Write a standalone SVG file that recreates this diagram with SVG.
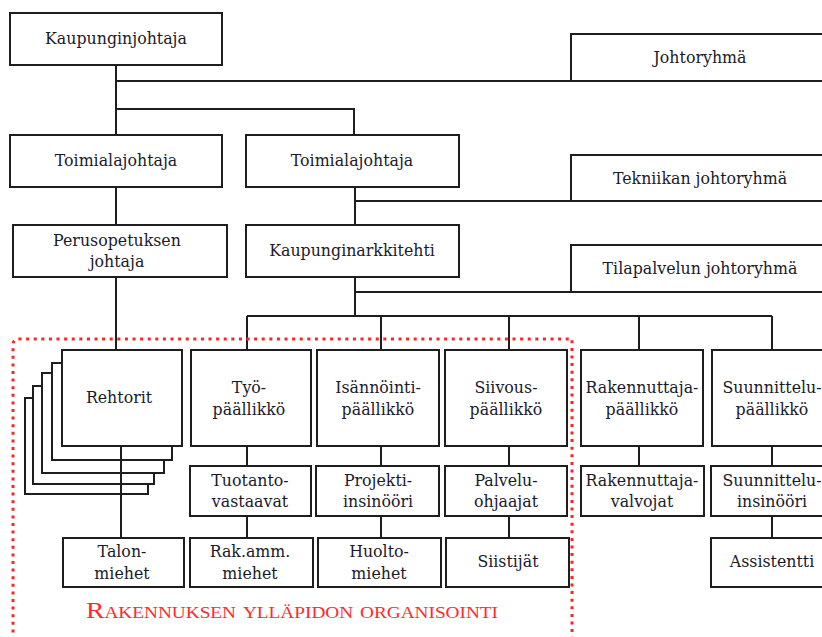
<svg xmlns="http://www.w3.org/2000/svg" width="822" height="637" viewBox="0 0 822 637">
  <style>
    .box { fill: #ffffff; stroke: #1e1e1e; stroke-width: 2; }
    .lbl { font-family: "DejaVu Serif", "Liberation Serif", serif; font-size: 15.8px; fill: #1a1a2a; text-anchor: middle; }
    .wire { fill: none; stroke: #1e1e1e; stroke-width: 2; }
    .area { fill: none; stroke: #ff2424; stroke-width: 3; stroke-dasharray: 3 4.6; }
    .title { font-family: "Liberation Serif", "DejaVu Serif", serif; font-size: 23px; font-variant: small-caps; fill: #ff2a2a; }
  </style>
  <rect width="822" height="637" fill="#ffffff"/>

  <!-- management level -->
  <g id="kaupunginjohtaja">
    <rect class="box" x="10" y="13" width="212" height="52"/>
    <text class="lbl" x="116" y="44">Kaupunginjohtaja</text>
  </g>
  <g id="johtoryhma">
    <rect class="box" x="571" y="34" width="262" height="47"/>
    <text class="lbl" x="700" y="63">Johtoryhmä</text>
  </g>
  <g id="toimialajohtaja-1">
    <rect class="box" x="10" y="135" width="212" height="52"/>
    <text class="lbl" x="116" y="166">Toimialajohtaja</text>
  </g>
  <g id="toimialajohtaja-2">
    <rect class="box" x="246" y="135" width="213" height="52"/>
    <text class="lbl" x="352" y="166">Toimialajohtaja</text>
  </g>
  <g id="tekniikan-johtoryhma">
    <rect class="box" x="571" y="155" width="262" height="46"/>
    <text class="lbl" x="700" y="184">Tekniikan johtoryhmä</text>
  </g>
  <g id="perusopetuksen-johtaja">
    <rect class="box" x="13" y="225" width="214" height="52"/>
    <text class="lbl" x="117" y="246">Perusopetuksen</text>
    <text class="lbl" x="117" y="267">johtaja</text>
  </g>
  <g id="kaupunginarkkitehti">
    <rect class="box" x="246" y="225" width="213" height="52"/>
    <text class="lbl" x="352" y="256">Kaupunginarkkitehti</text>
  </g>
  <g id="tilapalvelun-johtoryhma">
    <rect class="box" x="571" y="245" width="262" height="47"/>
    <text class="lbl" x="700" y="274">Tilapalvelun johtoryhmä</text>
  </g>

  <!-- stacked principals -->
  <g id="rehtorit">
    <rect class="box" x="25" y="398" width="123" height="96"/>
    <rect class="box" x="33" y="386" width="121" height="98"/>
    <rect class="box" x="42" y="373" width="122" height="100"/>
    <rect class="box" x="52" y="363" width="120" height="97"/>
    <rect class="box" x="62" y="350" width="120" height="96"/>
    <text class="lbl" x="119" y="403">Rehtorit</text>
  </g>

  <!-- supervisors -->
  <g id="tyopaallikko">
    <rect class="box" x="191" y="350" width="120" height="96"/>
    <text class="lbl" x="249" y="393">Työ-</text>
    <text class="lbl" x="249" y="415">päällikkö</text>
  </g>
  <g id="isannointipaallikko">
    <rect class="box" x="317" y="350" width="122" height="96"/>
    <text class="lbl" x="378" y="393">Isännöinti-</text>
    <text class="lbl" x="378" y="415">päällikkö</text>
  </g>
  <g id="siivouspaallikko">
    <rect class="box" x="445" y="350" width="122" height="96"/>
    <text class="lbl" x="506" y="393">Siivous-</text>
    <text class="lbl" x="506" y="415">päällikkö</text>
  </g>
  <g id="rakennuttajapaallikko">
    <rect class="box" x="581" y="350" width="122" height="96"/>
    <text class="lbl" x="642" y="393">Rakennuttaja-</text>
    <text class="lbl" x="642" y="415">päällikkö</text>
  </g>
  <g id="suunnittelupaallikko">
    <rect class="box" x="712" y="350" width="122" height="96"/>
    <text class="lbl" x="772" y="393">Suunnittelu-</text>
    <text class="lbl" x="772" y="415">päällikkö</text>
  </g>

  <!-- second level staff -->
  <g id="tuotantovastaavat">
    <rect class="box" x="190" y="466" width="121" height="50"/>
    <text class="lbl" x="250" y="486">Tuotanto-</text>
    <text class="lbl" x="250" y="507">vastaavat</text>
  </g>
  <g id="projekti-insinoori">
    <rect class="box" x="316" y="466" width="123" height="50"/>
    <text class="lbl" x="378" y="486">Projekti-</text>
    <text class="lbl" x="378" y="507">insinööri</text>
  </g>
  <g id="palveluohjaajat">
    <rect class="box" x="445" y="466" width="122" height="50"/>
    <text class="lbl" x="506" y="486">Palvelu-</text>
    <text class="lbl" x="506" y="507">ohjaajat</text>
  </g>
  <g id="rakennuttajavalvojat">
    <rect class="box" x="581" y="466" width="123" height="50"/>
    <text class="lbl" x="642" y="486">Rakennuttaja-</text>
    <text class="lbl" x="642" y="507">valvojat</text>
  </g>
  <g id="suunnitteluinsinoori">
    <rect class="box" x="711" y="466" width="123" height="50"/>
    <text class="lbl" x="772" y="486">Suunnittelu-</text>
    <text class="lbl" x="772" y="507">insinööri</text>
  </g>

  <!-- field staff -->
  <g id="talonmiehet">
    <rect class="box" x="63" y="538" width="121" height="49"/>
    <text class="lbl" x="122" y="557">Talon-</text>
    <text class="lbl" x="122" y="579">miehet</text>
  </g>
  <g id="rakamm-miehet">
    <rect class="box" x="190" y="538" width="123" height="49"/>
    <text class="lbl" x="250" y="557">Rak.amm.</text>
    <text class="lbl" x="250" y="579">miehet</text>
  </g>
  <g id="huoltomiehet">
    <rect class="box" x="318" y="538" width="123" height="49"/>
    <text class="lbl" x="379" y="557">Huolto-</text>
    <text class="lbl" x="379" y="579">miehet</text>
  </g>
  <g id="siistijat">
    <rect class="box" x="446" y="538" width="123" height="49"/>
    <text class="lbl" x="508" y="567">Siistijät</text>
  </g>
  <g id="assistentti">
    <rect class="box" x="711" y="538" width="123" height="49"/>
    <text class="lbl" x="772" y="567">Assistentti</text>
  </g>

  <!-- reporting lines -->
  <g id="connectors" class="wire">
    <path d="M116,65 V135"/>
    <path d="M116,81 H822"/>
    <path d="M116,109 H354 V135"/>
    <path d="M116,187 V225"/>
    <path d="M355,187 V225"/>
    <path d="M355,201 H822"/>
    <path d="M355,277 V316"/>
    <path d="M355,292 H822"/>
    <path d="M247,316 H772"/>
    <path d="M116,277 V350"/>
    <path d="M247,316 V350 M381,316 V350 M509,316 V350 M639,316 V350 M772,316 V350"/>
    <path d="M247,446 V466 M381,446 V466 M509,446 V466 M639,446 V466 M772,446 V466"/>
    <path d="M121,446 V538"/>
    <path d="M247,516 V538 M381,516 V538 M509,516 V538 M772,516 V538"/>
  </g>

  <!-- building maintenance area -->
  <g id="yllapito-alue">
    <path class="area" d="M13,640 V345 Q13,339 19,339 H572 V640"/>
    <text class="title" x="86" y="618" textLength="412" lengthAdjust="spacingAndGlyphs">Rakennuksen ylläpidon organisointi</text>
  </g>
</svg>
